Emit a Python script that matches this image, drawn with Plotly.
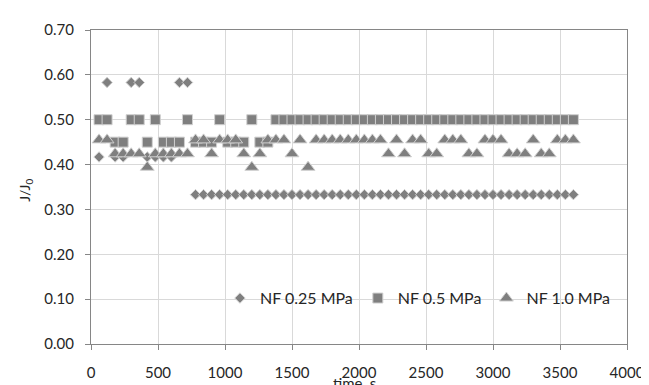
import plotly.graph_objects as go

# time, s
time_s = [60, 120, 180, 240, 300, 360, 420, 480, 540, 600,
          660, 720, 780, 840, 900, 960, 1020, 1080, 1140, 1200,
          1260, 1320, 1380, 1440, 1500, 1560, 1620, 1680, 1740, 1800,
          1860, 1920, 1980, 2040, 2100, 2160, 2220, 2280, 2340, 2400,
          2460, 2520, 2580, 2640, 2700, 2760, 2820, 2880, 2940, 3000,
          3060, 3120, 3180, 3240, 3300, 3360, 3420, 3480, 3540, 3600]

nf_025 = [0.417, 0.583, 0.417, 0.417, 0.583, 0.583, 0.417, 0.417, 0.417, 0.417,
          0.583, 0.583, 0.333, 0.333, 0.333, 0.333, 0.333, 0.333, 0.333, 0.333,
          0.333, 0.333, 0.333, 0.333, 0.333, 0.333, 0.333, 0.333, 0.333, 0.333,
          0.333, 0.333, 0.333, 0.333, 0.333, 0.333, 0.333, 0.333, 0.333, 0.333,
          0.333, 0.333, 0.333, 0.333, 0.333, 0.333, 0.333, 0.333, 0.333, 0.333,
          0.333, 0.333, 0.333, 0.333, 0.333, 0.333, 0.333, 0.333, 0.333, 0.333]

nf_05 = [0.50, 0.50, 0.45, 0.45, 0.50, 0.50, 0.45, 0.50, 0.45, 0.45,
         0.45, 0.50, 0.45, 0.45, 0.45, 0.50, 0.45, 0.45, 0.45, 0.50,
         0.45, 0.45, 0.50, 0.50, 0.50, 0.50, 0.50, 0.50, 0.50, 0.50,
         0.50, 0.50, 0.50, 0.50, 0.50, 0.50, 0.50, 0.50, 0.50, 0.50,
         0.50, 0.50, 0.50, 0.50, 0.50, 0.50, 0.50, 0.50, 0.50, 0.50,
         0.50, 0.50, 0.50, 0.50, 0.50, 0.50, 0.50, 0.50, 0.50, 0.50]

nf_10 = [0.455, 0.455, 0.424, 0.424, 0.424, 0.424, 0.394, 0.424, 0.424, 0.424,
         0.424, 0.424, 0.455, 0.455, 0.424, 0.455, 0.455, 0.455, 0.424, 0.394,
         0.424, 0.455, 0.455, 0.455, 0.424, 0.455, 0.394, 0.455, 0.455, 0.455,
         0.455, 0.455, 0.455, 0.455, 0.455, 0.455, 0.424, 0.455, 0.424, 0.455,
         0.455, 0.424, 0.424, 0.455, 0.455, 0.455, 0.424, 0.424, 0.455, 0.455,
         0.455, 0.424, 0.424, 0.424, 0.455, 0.424, 0.424, 0.455, 0.455, 0.455]

series_names = ["NF 0.25 MPa", "NF 0.5 MPa", "NF 1.0 MPa"]
x_ticks = [0, 500, 1000, 1500, 2000, 2500, 3000, 3500, 4000]
y_ticks = [0.0, 0.1, 0.2, 0.3, 0.4, 0.5, 0.6, 0.7]

FILL = "#7f7f7f"
EDGE = "#d0d0d0"
AXIS = "#868686"
GRID = "#d9d9d9"
FONT = "Lato"
TXT = "#262626"

fig = go.Figure()
for name, vals, sym, size in [
    (series_names[0], nf_025, "diamond", 8),
    (series_names[1], nf_05, "square", 10),
    (series_names[2], nf_10, "triangle-up", 12),
]:
    fig.add_trace(go.Scatter(
        x=time_s, y=vals, mode="markers", name=name,
        marker=dict(symbol=sym, size=size, color=FILL,
                    line=dict(color=EDGE, width=1)),
    ))

fig.update_layout(
    width=649, height=385,
    margin=dict(l=83, r=21, t=22, b=44),
    paper_bgcolor="white", plot_bgcolor="white",
    font=dict(family=FONT, size=15, color=TXT),
    showlegend=True,
    legend=dict(
        orientation="h", x=0.61, y=0.146, xanchor="center", yanchor="middle",
        bgcolor="rgba(0,0,0,0)", font=dict(family=FONT, size=16, color=TXT),
        itemwidth=30, tracegroupgap=0,
    ),
    xaxis=dict(
        range=[0, 4000], tickvals=x_ticks, ticktext=[str(v) for v in x_ticks],
        showgrid=True, gridcolor=GRID, gridwidth=1,
        showline=True, linecolor=AXIS, linewidth=1, mirror=True,
        ticks="outside", ticklen=5, tickcolor=AXIS, ticklabelstandoff=10,
        zeroline=False, tickfont=dict(family=FONT, size=15, color=TXT),
    ),
    yaxis=dict(
        range=[0, 0.7], tickvals=y_ticks, ticktext=["%.2f" % v for v in y_ticks],
        showgrid=True, gridcolor=GRID, gridwidth=1,
        showline=True, linecolor=AXIS, linewidth=1, mirror=True,
        ticks="outside", ticklen=5, tickcolor=AXIS, ticklabelstandoff=8,
        zeroline=False, tickfont=dict(family=FONT, size=15, color=TXT),
    ),
    annotations=[
        dict(text="time, s", xref="paper", yref="paper", x=0.492, y=-0.125,
             xanchor="center", yanchor="middle", showarrow=False,
             font=dict(family=FONT, size=15, color=TXT)),
        dict(text="J/J<sub>0</sub>", xref="paper", yref="paper", x=-0.122, y=0.49,
             xanchor="center", yanchor="middle", showarrow=False, textangle=-90,
             font=dict(family=FONT, size=14, color=TXT)),
    ],
)

fig.write_html("out.html")
